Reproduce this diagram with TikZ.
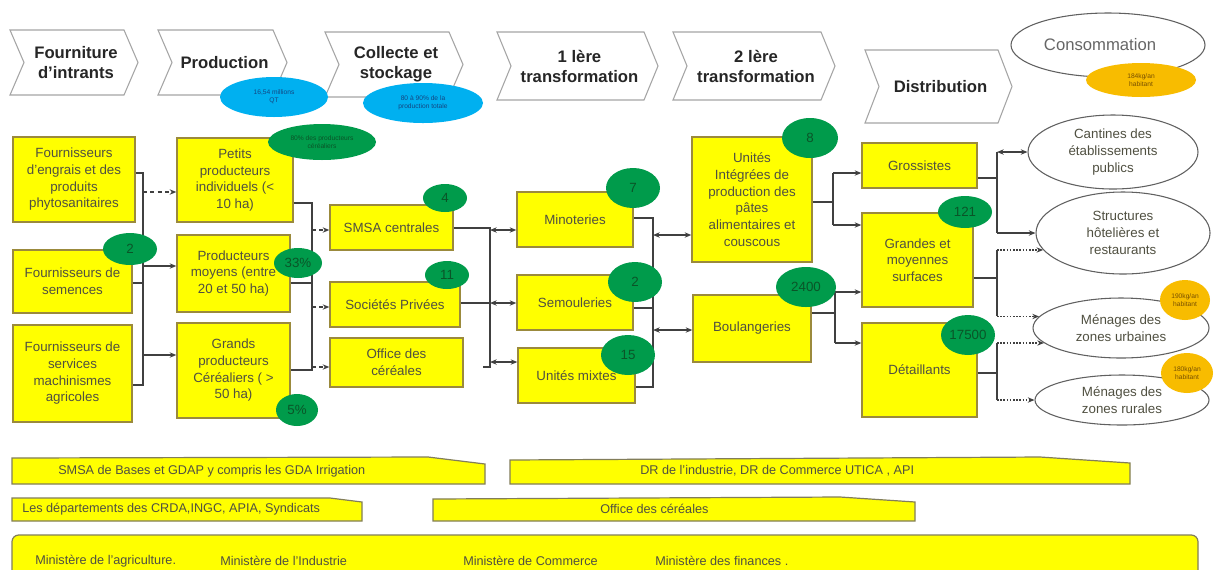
\documentclass[tikz,border=0pt]{standalone}
\usepackage{fontspec}
\setmainfont{Liberation Sans}
\usetikzlibrary{shapes.geometric,arrows.meta}
\definecolor{yel}{RGB}{255,255,0}
\definecolor{ybd}{RGB}{155,138,60}
\definecolor{grn}{RGB}{0,155,75}
\definecolor{grntxt}{RGB}{10,85,40}
\definecolor{blu}{RGB}{0,176,240}
\definecolor{blutxt}{RGB}{20,70,130}
\definecolor{org}{RGB}{248,188,0}
\definecolor{orgtxt}{RGB}{120,80,0}
\definecolor{txt}{RGB}{80,80,65}
\definecolor{ln}{RGB}{64,64,64}
\definecolor{chevbd}{RGB}{165,165,165}
\definecolor{barbd}{RGB}{130,125,90}
\tikzset{
 ybox/.style={draw=ybd, line width=1pt, fill=yel, align=center, text=txt, font=\fontsize{10}{12.5}\selectfont, inner sep=1pt},
 cons/.style={ellipse, draw=gray!75!black, line width=0.8pt, fill=white, align=center, text=txt, font=\fontsize{10}{12.5}\selectfont, inner sep=0pt},
 gnum/.style={ellipse, fill=grn, text=grntxt, font=\fontsize{10}{12}\selectfont, inner sep=0pt},
 bnote/.style={ellipse, fill=blu, text=blutxt, font=\fontsize{5}{6}\selectfont, align=center, inner sep=0pt},
 gnote/.style={ellipse, fill=grn, text=grntxt, font=\fontsize{5}{6}\selectfont, align=center, inner sep=0pt},
 onote/.style={ellipse, fill=org, text=orgtxt, font=\fontsize{5}{6}\selectfont, align=center, inner sep=0pt},
 conn/.style={draw=ln, line width=0.9pt},
 arr/.style={conn, -{Stealth[length=5pt,width=4pt]}},
 darr/.style={conn, {Stealth[length=5pt,width=4pt]}-{Stealth[length=5pt,width=4pt]}},
 dsh/.style={dash pattern=on 3pt off 2.5pt},
 dotl/.style={dash pattern=on 1.2pt off 1.2pt},
 chev/.style={draw=chevbd, fill=white, line width=0.8pt},
 htext/.style={font=\bfseries\fontsize{12.5}{15}\selectfont, align=center, text=black!85},
 bar/.style={draw=barbd, fill=yel, line width=0.9pt},
 btext/.style={font=\fontsize{9.5}{11}\selectfont, text=txt, anchor=west, inner sep=0pt},
}
\newcommand\ybx[6]{\node[ybox, minimum width={(#4-#2)*0.75pt}, minimum height={(#5-#3)*0.75pt}] (#1) at ({(#2+#4)/2},{(#3+#5)/2}) {#6};}
\newcommand\myell[7]{\node[#1, minimum width={2*#5*0.75pt}, minimum height={2*#6*0.75pt}] (#2) at (#3,#4) {#7};}
\newcommand\chevbox[6]{%
 \draw[chev] (#2,#4) -- ({#3-14},#4) -- (#3,{(#4+#5)/2}) -- ({#3-14},#5) -- (#2,#5) -- ({#2+14},{(#4+#5)/2}) -- cycle;
 \node[htext] (#1) at ({(#2+#3)/2+2},{(#4+#5)/2}) {#6};}
\begin{document}
\begin{tikzpicture}[x=0.75pt,y=-0.75pt]
\useasboundingbox (0,0) rectangle (1216,569);
\clip (0,0) rectangle (1216,569);
\fill[white] (0,0) rectangle (1216,569);
% header chevrons
\chevbox{h1}{10}{138}{30}{95}{Fourniture\\d’intrants}
\chevbox{h2}{158}{287}{30}{95}{Production}
\chevbox{h3}{325}{463}{32}{97}{Collecte et\\stockage}
\chevbox{h4}{497}{658}{32}{100}{1 lère\\transformation}
\chevbox{h5}{673}{835}{32}{100}{2 lère\\transformation}
\chevbox{h6}{865}{1012}{50}{123}{Distribution}
\myell{cons}{CONS}{1108}{45}{97}{32}{}
\node[text=gray!80!black, font=\fontsize{12.5}{15}\selectfont] (ctext) at (1100,45) {Consommation};
% yellow boxes
\ybx{A}{13}{137}{135}{222}{Fournisseurs\\d’engrais et des\\produits\\phytosanitaires}
\ybx{B}{13}{250}{132}{313}{Fournisseurs de\\semences}
\ybx{C}{13}{325}{132}{422}{Fournisseurs de\\services\\machinismes\\agricoles}
\ybx{P1}{177}{138}{293}{222}{Petits\\producteurs\\individuels (<\\10 ha)}
\ybx{P2}{177}{235}{290}{312}{Producteurs\\moyens (entre\\20 et 50 ha)}
\ybx{P3}{177}{323}{290}{418}{Grands\\producteurs\\Céréaliers ( >\\50 ha)}
\ybx{SMSA}{330}{205}{453}{250}{SMSA centrales}
\ybx{SP}{330}{282}{460}{327}{Sociétés Privées}
\ybx{OFF}{330}{338}{463}{387}{Office des\\céréales}
\ybx{MIN}{517}{192}{633}{247}{Minoteries}
\ybx{SEM}{517}{275}{633}{330}{Semouleries}
\ybx{UM}{518}{348}{635}{403}{Unités mixtes}
\ybx{UIP}{692}{137}{812}{262}{Unités\\Intégrées de\\production des\\pâtes\\alimentaires et\\couscous}
\ybx{BOU}{693}{295}{811}{362}{Boulangeries}
\ybx{GRO}{862}{143}{977}{188}{Grossistes}
\ybx{GMS}{862}{213}{973}{307}{Grandes et\\moyennes\\surfaces}
\ybx{DET}{862}{323}{977}{417}{Détaillants}
% consumption ellipses
\myell{cons}{CANT}{1113}{152}{85}{37}{Cantines des\\établissements\\publics}
\myell{cons}{STR}{1123}{233}{87}{41}{Structures\\hôtelières et\\restaurants}
\myell{cons}{MU}{1121}{328}{88}{30}{Ménages des\\zones urbaines}
\myell{cons}{MR}{1122}{400}{87}{25}{Ménages des\\zones rurales}
% stage 1 connectors
\coordinate (t1a) at (143,173); \coordinate (t1b) at (143,385); \coordinate (t1c) at (143,283);
\coordinate (s1a) at (143,192); \coordinate (s1b) at (143,266); \coordinate (s1c) at (143,355);
\draw[conn] (A.east|-t1a) -- (t1a) -- (t1b) -- (C.east|-t1b);
\draw[conn] (B.east|-t1c) -- (t1c);
\draw[arr,dsh] (s1a) -- (P1.west|-s1a);
\draw[arr] (s1b) -- (P2.west|-s1b);
\draw[arr] (s1c) -- (P3.west|-s1c);
% stage 2
\coordinate (t2a) at (312,203); \coordinate (t2b) at (312,370); \coordinate (t2c) at (312,283);
\coordinate (s2a) at (312,230); \coordinate (s2b) at (312,307); \coordinate (s2c) at (312,367);
\draw[conn] (P1.east|-t2a) -- (t2a) -- (t2b) -- (P3.east|-t2b);
\draw[conn] (P2.east|-t2c) -- (t2c);
\draw[arr,dsh] (s2a) -- (SMSA.west|-s2a);
\draw[arr,dsh] (s2b) -- (SP.west|-s2b);
\draw[arr,dsh] (s2c) -- (OFF.west|-s2c);
% stage 3
\coordinate (t3a) at (490,228); \coordinate (t3b) at (490,367); \coordinate (t3c) at (490,303); \coordinate (t3d) at (483,367);
\coordinate (s3a) at (490,230); \coordinate (s3b) at (490,303); \coordinate (s3c) at (490,362);
\draw[conn] (SMSA.east|-t3a) -- (t3a) -- (t3b) -- (t3d);
\draw[conn] (SP.east|-t3c) -- (t3c);
\draw[darr] (s3a) -- (MIN.west|-s3a);
\draw[darr] (s3b) -- (SEM.west|-s3b);
\draw[darr] (s3c) -- (UM.west|-s3c);
% stage 4
\coordinate (t4a) at (653,218); \coordinate (t4b) at (653,387); \coordinate (t4c) at (653,308);
\coordinate (s4a) at (653,235); \coordinate (s4b) at (653,330);
\draw[conn] (MIN.east|-t4a) -- (t4a) -- (t4b) -- (UM.east|-t4b);
\draw[conn] (SEM.east|-t4c) -- (t4c);
\draw[darr] (s4a) -- (UIP.west|-s4a);
\draw[darr] (s4b) -- (BOU.west|-s4b);
% stage 5
\coordinate (t5a) at (833,173); \coordinate (t5b) at (833,225); \coordinate (t5c) at (833,202);
\draw[conn] (UIP.east|-t5c) -- (t5c);
\draw[conn] (t5a) -- (t5b);
\draw[arr] (t5a) -- (GRO.west|-t5a);
\draw[arr] (t5b) -- (GMS.west|-t5b);
\coordinate (t5d) at (835,292); \coordinate (t5e) at (835,343); \coordinate (t5f) at (835,313);
\draw[conn] (BOU.east|-t5f) -- (t5f);
\draw[conn] (t5d) -- (t5e);
\draw[arr] (t5d) -- (GMS.west|-t5d);
\draw[arr] (t5e) -- (DET.west|-t5e);
% stage 6
\coordinate (x6) at (997,0);
\coordinate (t6a) at (997,178); \coordinate (t6b) at (997,278); \coordinate (t6c) at (997,373);
\draw[conn] (GRO.east|-t6a) -- (t6a);
\draw[conn] (CANT.west-|x6) -- (STR.west-|x6);
\draw[darr] (CANT.west-|x6) -- (CANT.west);
\draw[arr] (STR.west-|x6) -- (STR.west);
\draw[conn] (GMS.east|-t6b) -- (t6b);
\draw[conn] (STR.192-|x6) -- (MU.172-|x6);
\draw[arr,dotl] (STR.192-|x6) -- (STR.192);
\draw[arr,dotl] (MU.172-|x6) -- (MU.172);
\draw[conn] (DET.east|-t6c) -- (t6c);
\draw[conn] (MU.191-|x6) -- (MR.west-|x6);
\draw[arr,dotl] (MU.191-|x6) -- (MU.191);
\draw[arr,dotl] (MR.west-|x6) -- (MR.west);
% annotation ellipses
\myell{bnote}{n1}{274}{97}{54}{20}{16,54 millions\\QT}
\myell{bnote}{n2}{423}{103}{60}{20}{80 à 90\% de la\\production totale}
\myell{gnote}{n3}{322}{142}{54}{18}{80\% des producteurs\\céréaliers}
\myell{onote}{o1}{1141}{80}{55}{17}{184kg/an\\habitant}
\myell{onote}{o2}{1185}{300}{25}{20}{190kg/an\\habitant}
\myell{onote}{o3}{1187}{373}{26}{20}{180kg/an\\habitant}
\myell{gnum}{g1}{130}{249}{27}{16}{2}
\myell{gnum}{g2}{298}{263}{24}{15}{33\%}
\myell{gnum}{g3}{297}{410}{21}{16}{5\%}
\myell{gnum}{g4}{445}{198}{22}{14}{4}
\myell{gnum}{g5}{447}{275}{22}{14}{11}
\myell{gnum}{g6}{633}{188}{27}{20}{7}
\myell{gnum}{g7}{635}{282}{27}{20}{2}
\myell{gnum}{g8}{628}{355}{27}{20}{15}
\myell{gnum}{g9}{810}{138}{28}{20}{8}
\myell{gnum}{g10}{806}{287}{30}{20}{2400}
\myell{gnum}{g11}{965}{212}{27}{16}{121}
\myell{gnum}{g12}{968}{335}{27}{20}{17500}
% bottom bars
\draw[bar] (12,458) -- (428,457) -- (485,464) -- (485,484) -- (12,484) -- cycle;
\node[btext] (b1) at (58,471) {SMSA de Bases et GDAP y compris les GDA Irrigation};
\draw[bar] (510,460) -- (1040,457) -- (1130,463) -- (1130,484) -- (510,484) -- cycle;
\node[btext] (b2) at (640,471) {DR de l’industrie, DR de Commerce UTICA , API};
\draw[bar] (12,498) -- (330,498) -- (362,502) -- (362,521) -- (12,521) -- cycle;
\node[btext] (b3) at (22,509) {Les départements des CRDA,INGC, APIA, Syndicats};
\draw[bar] (433,499) -- (840,497) -- (915,502) -- (915,521) -- (433,521) -- cycle;
\node[btext] (b4) at (600,509) {Office des céréales};
\draw[bar, rounded corners=5pt] (12,535) rectangle (1198,600);
\node[btext] (m1) at (35,561) {Ministère de l’agriculture.};
\node[btext] (m2) at (220,561) {Ministère de l’Industrie};
\node[btext] (m3) at (463,561) {Ministère de Commerce};
\node[btext] (m4) at (655,561) {Ministère des finances .};
\end{tikzpicture}
\end{document}
